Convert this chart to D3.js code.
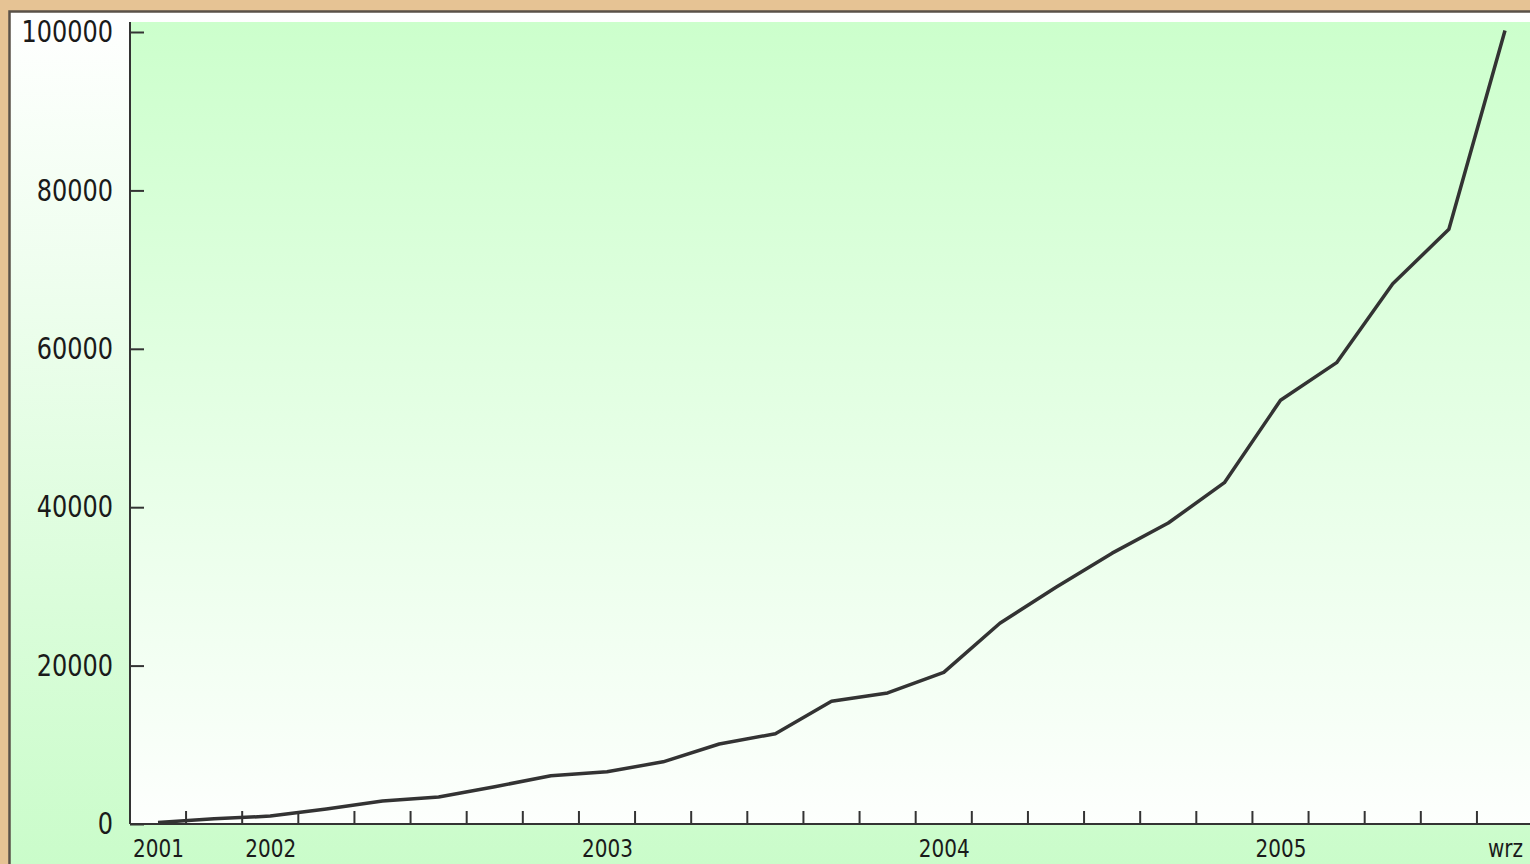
<!DOCTYPE html>
<html>
<head>
<meta charset="utf-8">
<script src="https://cdnjs.cloudflare.com/ajax/libs/d3/7.8.5/d3.min.js"></script>
<style>
  html, body { margin: 0; padding: 0; background: #e6c394; }
  svg { display: block; }
  text { font-family: "DejaVu Sans", sans-serif; fill: #1a1a1a; }
</style>
</head>
<body>
<script>
// bi-monthly points, Sept 2001 .. Sept 2005
const months = [
  '2001-09', '2001-11',
  '2002-01', '2002-03', '2002-05', '2002-07', '2002-09', '2002-11',
  '2003-01', '2003-03', '2003-05', '2003-07', '2003-09', '2003-11',
  '2004-01', '2004-03', '2004-05', '2004-07', '2004-09', '2004-11',
  '2005-01', '2005-03', '2005-05', '2005-07', '2005-09'
];
const articles = [
  200, 650,
  1000, 1900, 2900, 3400, 4700, 6100,
  6600, 7850, 10100, 11400, 15500, 16550,
  19150, 25350, 29900, 34200, 38000, 43100,
  53500, 58250, 68200, 75100, 100200
];
const labelMonths = ['2001-09', '2002-01', '2003-01', '2004-01', '2005-01', '2005-09'];
const labelTexts = ['2001', '2002', '2003', '2004', '2005', 'wrz'];
const yTicks = [0, 20000, 40000, 60000, 80000, 100000];

const W = 1530, H = 864;
const plotLeft = 130, plotTop = 22, plotBottom = 824;

const svg = d3.select('body').append('svg')
  .attr('width', W)
  .attr('height', H);

const defs = svg.append('defs');
const outerGrad = defs.append('linearGradient')
  .attr('id', 'outerGrad').attr('x1', 0).attr('y1', 0).attr('x2', 0).attr('y2', 1);
outerGrad.append('stop').attr('offset', '0%').attr('stop-color', '#ffffff');
outerGrad.append('stop').attr('offset', '100%').attr('stop-color', '#c8fcc8');

const plotGrad = defs.append('linearGradient')
  .attr('id', 'plotGrad').attr('x1', 0).attr('y1', 0).attr('x2', 0).attr('y2', 1);
plotGrad.append('stop').attr('offset', '0%').attr('stop-color', '#ccffcc');
plotGrad.append('stop').attr('offset', '100%').attr('stop-color', '#fdfffd');

// parchment background
svg.append('rect')
  .attr('width', W).attr('height', H)
  .attr('fill', '#e6c394');

// chart frame
svg.append('rect')
  .attr('x', 9.5).attr('y', 11.5)
  .attr('width', W + 20).attr('height', H + 20)
  .attr('fill', 'url(#outerGrad)')
  .attr('stroke', '#5a5148')
  .attr('stroke-width', 2.5);

svg.append('rect')
  .attr('x', plotLeft).attr('y', plotTop)
  .attr('width', W - plotLeft + 5).attr('height', plotBottom - plotTop)
  .attr('fill', 'url(#plotGrad)');

const x = d3.scalePoint()
  .domain(months)
  .range([158, 1505]);

const step = x.step();
const xBand = d3.scaleBand()
  .domain(months)
  .range([158 - step / 2, 1505 + step / 2]);

const y = d3.scaleLinear()
  .domain([0, 100000])
  .range([plotBottom, 32]);

// y axis
const yAxis = svg.append('g')
  .attr('transform', `translate(${plotLeft},0)`)
  .call(d3.axisLeft(y)
    .tickValues(yTicks)
    .tickFormat(d3.format('d'))
    .tickSizeInner(-14)
    .tickSizeOuter(0)
    .tickPadding(17));
yAxis.select('.domain').remove();
yAxis.selectAll('line').attr('stroke', '#333').attr('stroke-width', 2);
yAxis.selectAll('text')
  .attr('font-size', 24)
  .attr('transform', 'scale(1,1.25)');

svg.append('line')
  .attr('x1', plotLeft).attr('x2', plotLeft)
  .attr('y1', plotTop).attr('y2', plotBottom)
  .attr('stroke', '#333').attr('stroke-width', 2);

// x axis: ticks between months
const xTickAxis = svg.append('g')
  .attr('transform', `translate(0,${plotBottom})`)
  .call(d3.axisBottom(xBand)
    .tickValues(months.slice(1))
    .tickSizeInner(-13)
    .tickSizeOuter(0)
    .tickFormat(''));
xTickAxis.select('.domain').remove();
xTickAxis.selectAll('.tick')
  .attr('transform', d => `translate(${xBand(d)},0)`);
xTickAxis.selectAll('line').attr('stroke', '#333').attr('stroke-width', 2);

svg.append('line')
  .attr('x1', plotLeft).attr('x2', W)
  .attr('y1', plotBottom).attr('y2', plotBottom)
  .attr('stroke', '#333').attr('stroke-width', 2);

// x labels at data points
const xLabelAxis = svg.append('g')
  .attr('transform', `translate(0,${plotBottom})`)
  .call(d3.axisBottom(x)
    .tickValues(labelMonths)
    .tickSize(0)
    .tickPadding(13)
    .tickFormat(d => labelTexts[labelMonths.indexOf(d)]));
xLabelAxis.select('.domain').remove();
xLabelAxis.selectAll('text')
  .attr('font-size', 20)
  .attr('transform', 'scale(1,1.23)');

// data line
const line = d3.line()
  .x((d, i) => x(months[i]))
  .y(d => y(d));

svg.append('path')
  .datum(articles)
  .attr('d', line)
  .attr('fill', 'none')
  .attr('stroke', '#333')
  .attr('stroke-width', 3.5)
  .attr('stroke-linejoin', 'round');
</script>
</body>
</html>
